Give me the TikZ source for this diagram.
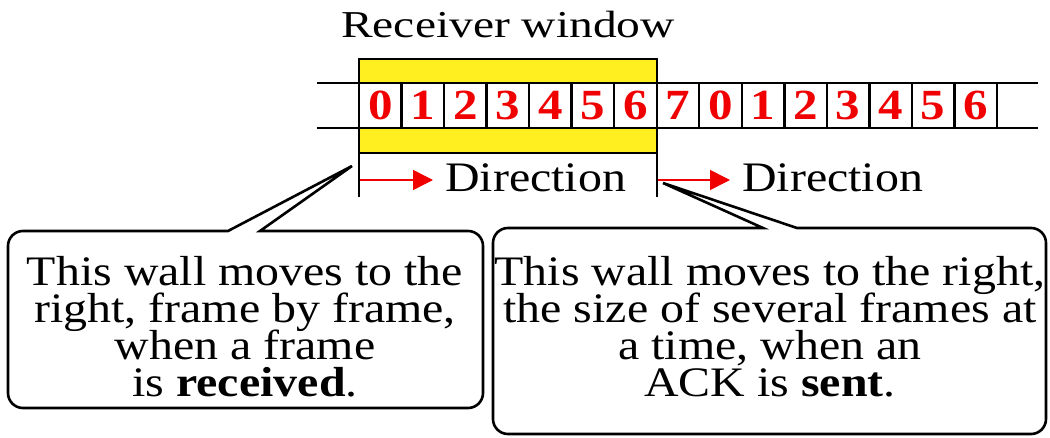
\documentclass[tikz,border=0pt]{standalone}
\usepackage{fontspec}
\setmainfont[FakeStretch=1.14]{Liberation Serif}
\newfontfamily\titlefont[FakeStretch=1.25]{Liberation Serif}
\usetikzlibrary{arrows.meta}
\definecolor{winyellow}{RGB}{255,238,32}
\definecolor{seqred}{RGB}{240,0,0}

\tikzset{
  cell/.style={draw=black,fill=white,line width=2.4pt,minimum width=42.5pt,minimum height=45pt,inner sep=0pt,
    font=\fontsize{43}{43}\selectfont\bfseries,text=seqred},
  wall/.style={line width=2.8pt},
  callout/.style={draw=black,line width=2.6pt,line join=miter},
  note/.style={align=center,inner sep=0pt,anchor=north,font={\fontsize{42}{37}\selectfont\lineskiplimit=-50pt}},
  dirlabel/.style={inner sep=0pt,anchor=base west,font=\fontsize{42}{42}\selectfont},
  dirarrow/.style={-{Triangle[length=20pt,width=20pt]},seqred,line width=1.6pt,shorten >=12pt},
}

\begin{document}
\begin{tikzpicture}[x=1pt,y=1pt,line cap=butt]
\useasboundingbox (0,0) rectangle (1050,437);
\node[font=\titlefont\fontsize{38}{38}\selectfont,anchor=base] (title) at (508,399) {Receiver window};
% the window itself
\draw[wall,fill=winyellow] (359,378) rectangle (657,284);
% sequence numbers
\node[cell] (fr0) at (380.3,331.5) {0};
\node[cell] (fr1) at (422.8,331.5) {1};
\node[cell] (fr2) at (465.3,331.5) {2};
\node[cell] (fr3) at (507.9,331.5) {3};
\node[cell] (fr4) at (550.4,331.5) {4};
\node[cell] (fr5) at (592.9,331.5) {5};
\node[cell] (fr6) at (635.5,331.5) {6};
\node[cell] (fr7) at (678.0,331.5) {7};
\node[cell] (fr8) at (720.5,331.5) {0};
\node[cell] (fr9) at (763.1,331.5) {1};
\node[cell] (fr10) at (805.6,331.5) {2};
\node[cell] (fr11) at (848.1,331.5) {3};
\node[cell] (fr12) at (890.6,331.5) {4};
\node[cell] (fr13) at (933.2,331.5) {5};
\node[cell] (fr14) at (975.7,331.5) {6};
\draw[wall] (317,354) -- (1038,354);
\draw[wall] (317,309) -- (1038,309);
% walls
\draw[wall] (359,378) -- (359,240);
\draw[wall] (657,378) -- (657,240);
\coordinate (wallL) at (360,257);
\coordinate (wallR) at (658,257);
\node[dirlabel] (dirL) at (445,245) {Direction};
\node[dirlabel] (dirR) at (742,245) {Direction};
\draw[dirarrow] (wallL) -- (wallL -| dirL.west);
\draw[dirarrow] (wallR) -- (wallR -| dirR.west);
% callouts, pointer kept sharp
\coordinate (tipL) at (352,271);
\coordinate (tipR) at (663,254);
\draw[callout] (300,206) [rounded corners=15pt] -- (483,206) -- (483,29) -- (8,29) -- (8,206) -- (200,206)
  [sharp corners] -- (228,206) -- (tipL) -- (260,206) -- cycle;
\draw[callout] (830,209) [rounded corners=15pt] -- (1046,209) -- (1046,3) -- (493,3) -- (493,209) -- (730,209)
  [sharp corners] -- (763,209) -- (tipR) -- (797,209) -- cycle;
\node[note] (noteL) at (245,181) {This wall moves to the\\right, frame by frame,\\when a frame\\is \textbf{received}.};
\node[note] (noteR) at (770,181) {This wall moves to the right,\\the size of several frames at\\a time, when an\\ACK is \textbf{sent}.};
\end{tikzpicture}
\end{document}
